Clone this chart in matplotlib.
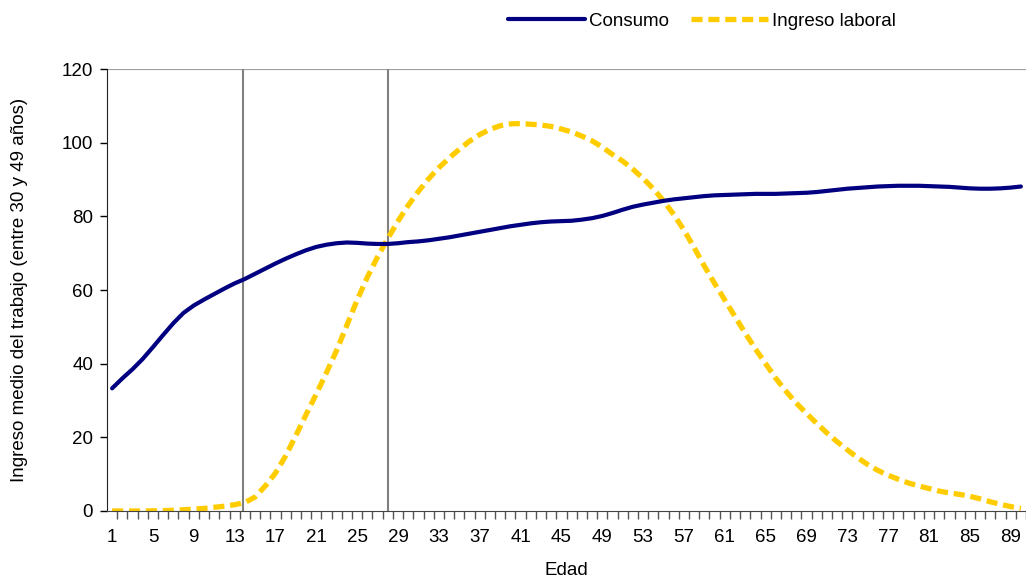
import numpy as np
import matplotlib.pyplot as plt

plt.rcParams['font.family'] = ['Liberation Sans', 'DejaVu Sans']

edad = list(range(1, 91))

consumo = [33.3, 36.0, 38.5, 41.3, 44.5, 47.8, 51.0, 53.8, 55.8, 57.4,
           58.9, 60.4, 61.8, 63.0, 64.4, 65.8, 67.2, 68.5, 69.7, 70.8,
           71.7, 72.3, 72.7, 72.9, 72.8, 72.6, 72.5, 72.5, 72.7, 73.0,
           73.2, 73.5, 73.9, 74.3, 74.8, 75.3, 75.8, 76.3, 76.8, 77.3,
           77.7, 78.1, 78.4, 78.6, 78.7, 78.8, 79.1, 79.5, 80.1, 80.9,
           81.8, 82.6, 83.2, 83.7, 84.2, 84.6, 84.9, 85.2, 85.5, 85.7,
           85.8, 85.9, 86.0, 86.1, 86.1, 86.1, 86.2, 86.3, 86.4, 86.6,
           86.9, 87.2, 87.5, 87.7, 87.9, 88.1, 88.2, 88.3, 88.3, 88.3,
           88.2, 88.1, 88.0, 87.8, 87.6, 87.5, 87.5, 87.6, 87.8, 88.1]

ingreso = [0.0, 0.0, 0.0, 0.0, 0.05, 0.1, 0.2, 0.35, 0.5, 0.7,
           1.0, 1.3, 1.7, 2.3, 3.8, 6.8, 10.3, 15.0, 20.5, 26.2,
           31.8, 37.6, 43.7, 50.5, 57.3, 63.5, 69.0, 74.0, 78.7, 83.0,
           86.8, 90.2, 93.2, 95.8, 98.2, 100.4, 102.2, 103.6, 104.6, 105.1,
           105.2, 105.0, 104.8, 104.4, 103.7, 102.9, 101.8, 100.5, 98.8, 96.8,
           95.0, 92.8, 90.3, 87.5, 84.2, 80.5, 76.3, 71.5, 66.5, 61.8,
           57.3, 52.8, 48.3, 44.0, 40.0, 36.0, 32.5, 29.3, 26.5, 23.8,
           21.2, 18.8, 16.6, 14.5, 12.6, 11.0, 9.7, 8.6, 7.6, 6.8,
           6.1, 5.4, 4.9, 4.5, 4.0, 3.3, 2.5, 1.8, 1.2, 0.7]

# edades donde se marcan los cortes verticales
cortes = [13.8, 28]

fs = 13.5

fig = plt.figure(figsize=(10.26, 5.77), dpi=100)
ax = fig.add_axes([0.1043, 0.1144, 0.8957, 0.766])

ax.axhline(120, color='#a0a0a0', lw=1.6, zorder=1)
for c in cortes:
    ax.axvline(c, color='#808080', lw=1.5, zorder=1)

ax.plot(edad, consumo, color='#000080', lw=3, solid_capstyle='round',
        label='Consumo', zorder=3)
ax.plot(edad, ingreso, color='#ffcc00', lw=3.8, dashes=(2.1, 1.1),
        label='Ingreso laboral', zorder=2)

ax.set_xlim(0.5, 90.5)
ax.set_ylim(0, 120)
ax.set_xticks(edad[::4])
ax.set_xticks(np.arange(1.5, 91, 1), minor=True)
ax.set_yticks(range(0, 121, 20))
ax.tick_params(axis='x', which='major', length=0, pad=13, labelsize=fs)
ax.tick_params(axis='x', which='minor', length=6, color='#555555', width=1)
ax.tick_params(axis='y', length=5, width=1, labelsize=fs, pad=5)

for s in ['top', 'right']:
    ax.spines[s].set_visible(False)
ax.spines['left'].set_color('#222222')
ax.spines['bottom'].set_color('#444444')
ax.spines['bottom'].set_zorder(4)

ax.set_xlabel('Edad', fontsize=fs)
ax.set_ylabel('Ingreso medio del trabajo (entre 30 y 49 años)', fontsize=fs)
ax.xaxis.set_label_coords(0.5, -0.116)
ax.yaxis.set_label_coords(-0.086, 0.5)

fig.legend(loc='center', bbox_to_anchor=(0.684, 0.963), ncol=2, frameon=False,
           fontsize=fs, handlelength=4.1, handletextpad=0.2, columnspacing=1.2)

fig.savefig('out.png', dpi=100)
